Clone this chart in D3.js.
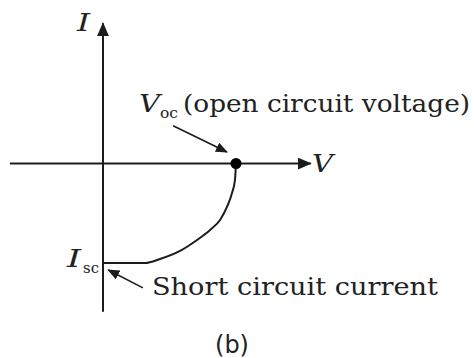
<!DOCTYPE html>
<html>
<head>
<meta charset="utf-8">
<script src="https://cdn.jsdelivr.net/npm/d3@7"></script>
<style>
  html, body { margin: 0; padding: 0; background: #fff; }
  svg { display: block; }
  text { fill: #222; }
</style>
</head>
<body>
<svg id="chart" width="474" height="358"></svg>
<script>
// Solar cell I–V characteristic (fourth quadrant), normalised units:
// voltage in units of Voc, current in units of Isc.
const voltage = [0, 0.316, 0.429, 0.579, 0.707, 0.805, 0.880, 0.932, 0.970, 0.992, 1.0];
const current = [-1, -1, -0.960, -0.879, -0.769, -0.668, -0.568, -0.437, -0.296, -0.166, 0];

const vocPoint = { v: 1.0, i: 0 };

// Axis extents in the same units
const vAxisRange = [-0.70, 1.562];
const iAxisRange = [-1.49, 1.41];

const svg = d3.select("#chart");
const ink = "#1c1c1c";

const x = d3.scaleLinear().domain([0, 1]).range([103, 236]);
const y = d3.scaleLinear().domain([-1, 0]).range([263, 163.5]);

const defs = svg.append("defs");
defs.append("marker")
  .attr("id", "head")
  .attr("viewBox", "0 0 14 12")
  .attr("refX", 13).attr("refY", 6)
  .attr("markerWidth", 14).attr("markerHeight", 12)
  .attr("markerUnits", "userSpaceOnUse")
  .attr("orient", "auto")
  .append("path").attr("d", "M0,0 L14,6 L0,12 Z").attr("fill", ink);

defs.append("marker")
  .attr("id", "headSmall")
  .attr("viewBox", "0 0 12 10")
  .attr("refX", 11).attr("refY", 5)
  .attr("markerWidth", 12).attr("markerHeight", 10)
  .attr("markerUnits", "userSpaceOnUse")
  .attr("orient", "auto")
  .append("path").attr("d", "M0,0 L12,5 L0,10 Z").attr("fill", ink);

// Axes
svg.append("line")
  .attr("x1", x(vAxisRange[0])).attr("y1", y(0))
  .attr("x2", x(vAxisRange[1])).attr("y2", y(0))
  .attr("stroke", ink).attr("stroke-width", 2)
  .attr("marker-end", "url(#head)");

svg.append("line")
  .attr("x1", x(0)).attr("y1", y(iAxisRange[0]))
  .attr("x2", x(0)).attr("y2", y(iAxisRange[1]))
  .attr("stroke", ink).attr("stroke-width", 2)
  .attr("marker-end", "url(#head)");

// I–V curve
const pts = voltage.map((v, k) => [v, current[k]]);
const line = d3.line()
  .x(d => x(d[0])).y(d => y(d[1]))
  .curve(d3.curveMonotoneX);

svg.append("path")
  .datum(pts)
  .attr("d", line)
  .attr("fill", "none")
  .attr("stroke", ink)
  .attr("stroke-width", 2);

// Open-circuit point
svg.append("circle")
  .attr("cx", x(vocPoint.v)).attr("cy", y(vocPoint.i))
  .attr("r", 5.5).attr("fill", "#000");

// Annotation arrows
svg.append("line")
  .attr("x1", x(0.527)).attr("y1", y(0.38))
  .attr("x2", x(0.932)).attr("y2", y(0.115))
  .attr("stroke", ink).attr("stroke-width", 1.6)
  .attr("marker-end", "url(#headSmall)");

svg.append("line")
  .attr("x1", x(0.30)).attr("y1", y(-1.25))
  .attr("x2", x(0.04)).attr("y2", y(-1.07))
  .attr("stroke", ink).attr("stroke-width", 1.6)
  .attr("marker-end", "url(#headSmall)");

// Labels
const serif = "'DejaVu Serif', 'Liberation Serif', serif";

function fitText(sel, width) {
  sel.attr("textLength", width).attr("lengthAdjust", "spacingAndGlyphs");
  return sel;
}

// Axis names
fitText(svg.append("text")
  .attr("x", 77).attr("y", 31)
  .attr("font-family", serif).attr("font-style", "italic")
  .attr("font-size", 25).text("I"), 13);

fitText(svg.append("text")
  .attr("x", 312).attr("y", 172)
  .attr("font-family", serif).attr("font-style", "italic")
  .attr("font-size", 24).text("V"), 21);

// Voc label
fitText(svg.append("text")
  .attr("x", 139).attr("y", 112)
  .attr("font-family", serif).attr("font-style", "italic")
  .attr("font-size", 24).text("V"), 21);
fitText(svg.append("text")
  .attr("x", 160).attr("y", 118)
  .attr("font-family", serif)
  .attr("font-size", 15).text("oc"), 18);
fitText(svg.append("text")
  .attr("x", 183).attr("y", 112)
  .attr("font-family", serif)
  .attr("font-size", 24).text("(open circuit voltage)"), 287);

// Isc label
fitText(svg.append("text")
  .attr("x", 67).attr("y", 267)
  .attr("font-family", serif).attr("font-style", "italic")
  .attr("font-size", 24).text("I"), 14);
fitText(svg.append("text")
  .attr("x", 83).attr("y", 273)
  .attr("font-family", serif)
  .attr("font-size", 14).text("sc"), 16);

fitText(svg.append("text")
  .attr("x", 152).attr("y", 295)
  .attr("font-family", serif)
  .attr("font-size", 25).text("Short circuit current"), 286);

// Panel label
svg.append("text")
  .attr("x", 232).attr("y", 353)
  .attr("text-anchor", "middle")
  .attr("font-family", "'DejaVu Sans', 'Liberation Sans', sans-serif")
  .attr("font-size", 24).text("(b)");
</script>
</body>
</html>
